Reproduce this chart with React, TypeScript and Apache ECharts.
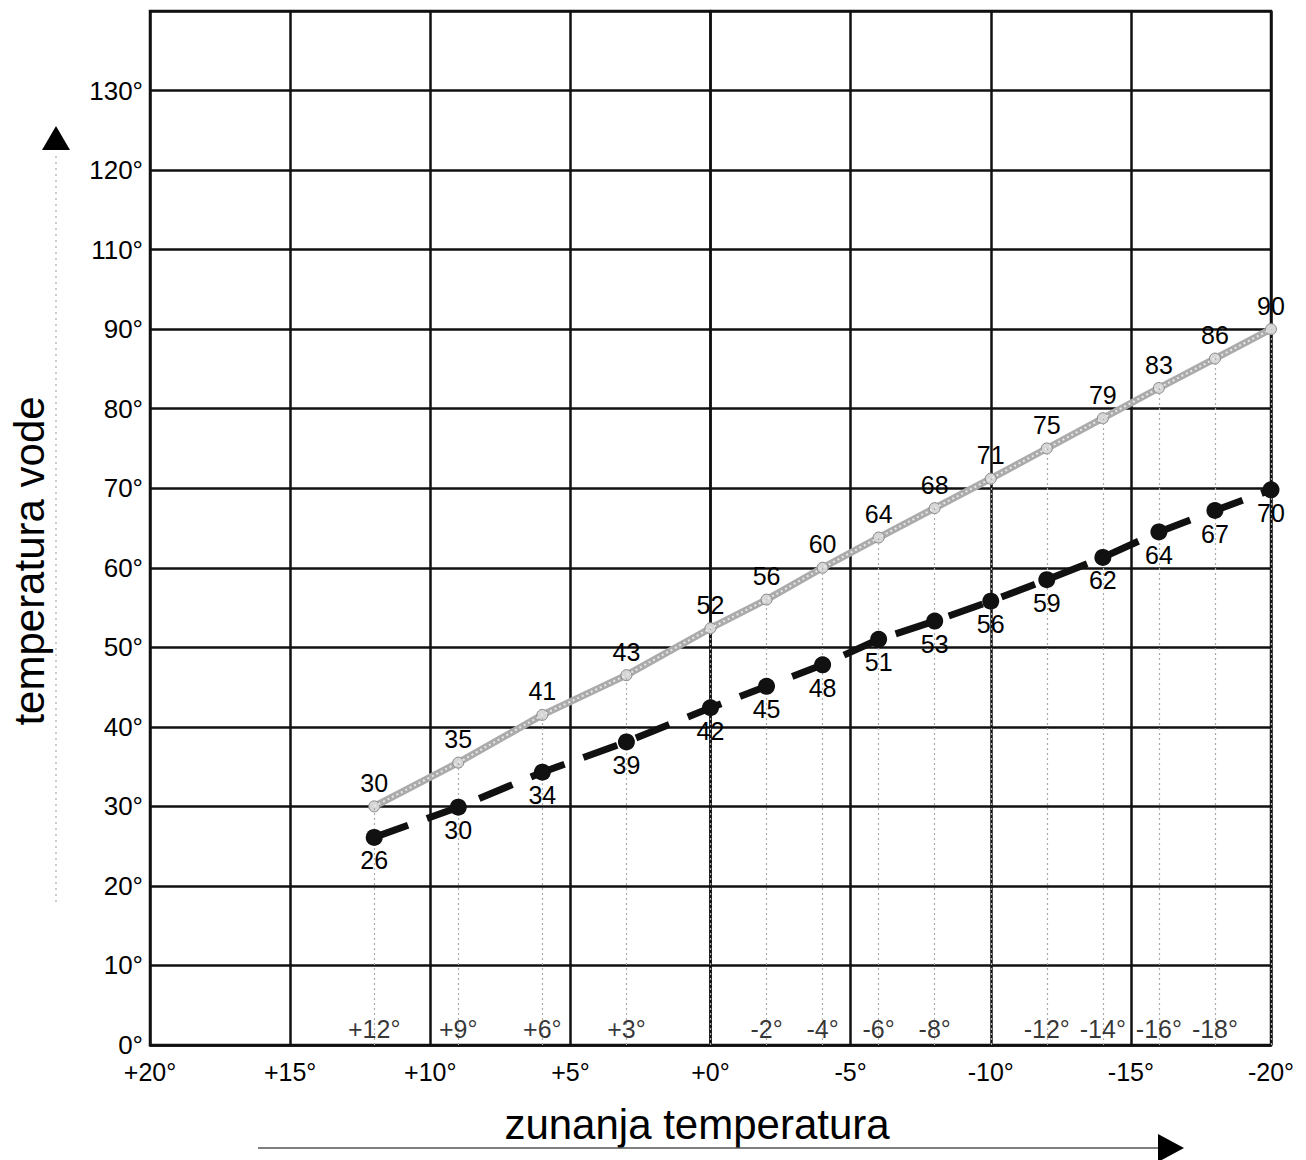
import React, { useEffect, useRef } from "react";
import * as echarts from "echarts";

// outside temperature (x) for every plotted point
const outsideTemps = [12, 9, 6, 3, 0, -2, -4, -6, -8, -10, -12, -14, -16, -18, -20];
// upper (grey) curve: plotted position and printed label
const upperValues = [30, 35.5, 41.5, 46.5, 52.4, 56, 60, 63.8, 67.5, 71.2, 75, 78.8, 82.6, 86.3, 90];
const upperLabels = ["30", "35", "41", "43", "52", "56", "60", "64", "68", "71", "75", "79", "83", "86", "90"];
// lower (black dashed) curve: plotted position and printed label
const lowerValues = [26.1, 29.9, 34.3, 38.1, 42.4, 45.1, 47.8, 51, 53.3, 55.8, 58.5, 61.3, 64.5, 67.2, 69.8];
const lowerLabels = ["26", "30", "34", "39", "42", "45", "48", "51", "53", "56", "59", "62", "64", "67", "70"];
// small tick labels printed inside the plot, along the bottom
const innerTickTemps = [12, 9, 6, 3, -2, -4, -6, -8, -12, -14, -16, -18];
const innerTickLabels = ["+12°", "+9°", "+6°", "+3°", "-2°", "-4°", "-6°", "-8°", "-12°", "-14°", "-16°", "-18°"];
// axis tick labels
const xTickValues = [20, 15, 10, 5, 0, -5, -10, -15, -20];
const xTickLabels = ["+20°", "+15°", "+10°", "+5°", "+0°", "-5°", "-10°", "-15°", "-20°"];
const yTickLabels = ["0°", "10°", "20°", "30°", "40°", "50°", "60°", "70°", "80°", "90°", "110°", "120°", "130°", ""];

const xTitle = "zunanja temperatura";
const yTitle = "temperatura vode";

const FONT = '"Liberation Sans", Arial, Helvetica, sans-serif';

export default function App() {
  const ref = useRef<HTMLDivElement>(null);
  useEffect(() => {
    if (!ref.current) return;
    const chart = echarts.init(ref.current, undefined, { renderer: "svg" });
    const gridLeft = 150, gridTop = 11, gridW = 1121, gridH = 1034;
    const option: any = {
      animation: false,
      backgroundColor: "#ffffff",
      textStyle: { fontFamily: FONT },
      grid: {
        left: gridLeft, top: gridTop, width: gridW, height: gridH,
        show: true, borderColor: "#111", borderWidth: 2.5, backgroundColor: "transparent",
      },
      xAxis: {
        type: "value", min: -20, max: 20, interval: 5, inverse: true,
        axisLine: { show: true, lineStyle: { color: "#111", width: 2.5 } },
        axisTick: { show: false },
        splitLine: { show: true, lineStyle: { color: "#111", width: 2.5 } },
        axisLabel: {
          color: "#000", fontSize: 25, fontFamily: FONT, margin: 14,
          formatter: (v: number) => {
            const i = xTickValues.indexOf(v);
            return i >= 0 ? xTickLabels[i] : "";
          },
        },
      },
      yAxis: {
        type: "value", min: 0, max: 130, interval: 10,
        axisLine: { show: true, lineStyle: { color: "#111", width: 2.5 } },
        axisTick: { show: false },
        splitLine: { show: true, lineStyle: { color: "#111", width: 2.5 } },
        axisLabel: {
          color: "#000", fontSize: 26, fontFamily: FONT, margin: 7,
          formatter: (v: number) => yTickLabels[Math.round(v / 10)] ?? "",
        },
      },
      graphic: [
        {
          type: "text", x: 29, y: 561, rotation: Math.PI / 2,
          style: {
            text: yTitle, font: `42px ${FONT}`, fill: "#000",
            align: "center", verticalAlign: "middle", textAlign: "center", textVerticalAlign: "middle",
          },
        },
        {
          type: "text", x: 697, y: 1124,
          style: {
            text: xTitle, font: `42px ${FONT}`, fill: "#000",
            align: "center", verticalAlign: "middle", textAlign: "center", textVerticalAlign: "middle",
          },
        },
        {
          type: "line", shape: { x1: 56, y1: 156, x2: 56, y2: 905 },
          style: { stroke: "#aaa", lineWidth: 1.2, lineDash: [2, 4] },
        },
        {
          type: "polygon", shape: { points: [[42, 150], [70, 150], [56, 126]] },
          style: { fill: "#000" },
        },
        {
          type: "line", shape: { x1: 258, y1: 1148, x2: 1162, y2: 1148 },
          style: { stroke: "#555", lineWidth: 1.5 },
        },
        {
          type: "polygon", shape: { points: [[1158, 1134], [1158, 1162], [1184, 1148]] },
          style: { fill: "#000" },
        },
      ],
      series: [
        {
          name: "drop",
          type: "line",
          data: [],
          markLine: {
            silent: true, symbol: ["none", "none"], label: { show: false },
            lineStyle: { color: "#aaa", width: 1.2, type: [2, 3] },
            data: outsideTemps.map((t, i) => [{ coord: [t, 0] }, { coord: [t, upperValues[i]] }]),
          },
        },
        {
          name: "upper-base",
          type: "line",
          data: outsideTemps.map((t, i) => [t, upperValues[i]]),
          lineStyle: { color: "#ababab", width: 7 },
          symbol: "circle", symbolSize: 11,
          itemStyle: { color: "#d6d6d6", borderColor: "#888", borderWidth: 1 },
          label: {
            show: true, position: "top", distance: 5, color: "#000", fontSize: 25, fontFamily: FONT,
            formatter: (p: any) => upperLabels[p.dataIndex],
          },
          z: 3,
        },
        {
          name: "upper-texture",
          type: "line",
          data: outsideTemps.map((t, i) => [t, upperValues[i]]),
          lineStyle: { color: "#e8e8e8", width: 2, type: [2, 3] },
          symbol: "none",
          z: 4,
        },
        {
          name: "lower",
          type: "line",
          data: outsideTemps.map((t, i) => [t, lowerValues[i]]),
          lineStyle: { color: "#111", width: 7, type: [36, 20], cap: "butt" },
          symbol: "circle", symbolSize: 17,
          itemStyle: { color: "#111" },
          label: {
            show: true, position: "bottom", distance: 2, color: "#000", fontSize: 25, fontFamily: FONT,
            formatter: (p: any) => lowerLabels[p.dataIndex],
          },
          z: 5,
        },
        {
          name: "inner-ticks",
          type: "scatter",
          data: innerTickTemps.map((t) => [t, 0]),
          symbolSize: 0.1,
          itemStyle: { color: "#000" },
          label: {
            show: true, position: "top", distance: 3, color: "#000", fontSize: 25, fontFamily: FONT,
            formatter: (p: any) => innerTickLabels[p.dataIndex],
          },
          z: 6,
        },
      ],
    };
    chart.setOption(option);
    return () => chart.dispose();
  }, []);
  return (
    <div
      ref={ref}
      style={{ position: "absolute", left: 0, top: 0, width: "1306px", height: "1160px", background: "#fff" }}
    />
  );
}
